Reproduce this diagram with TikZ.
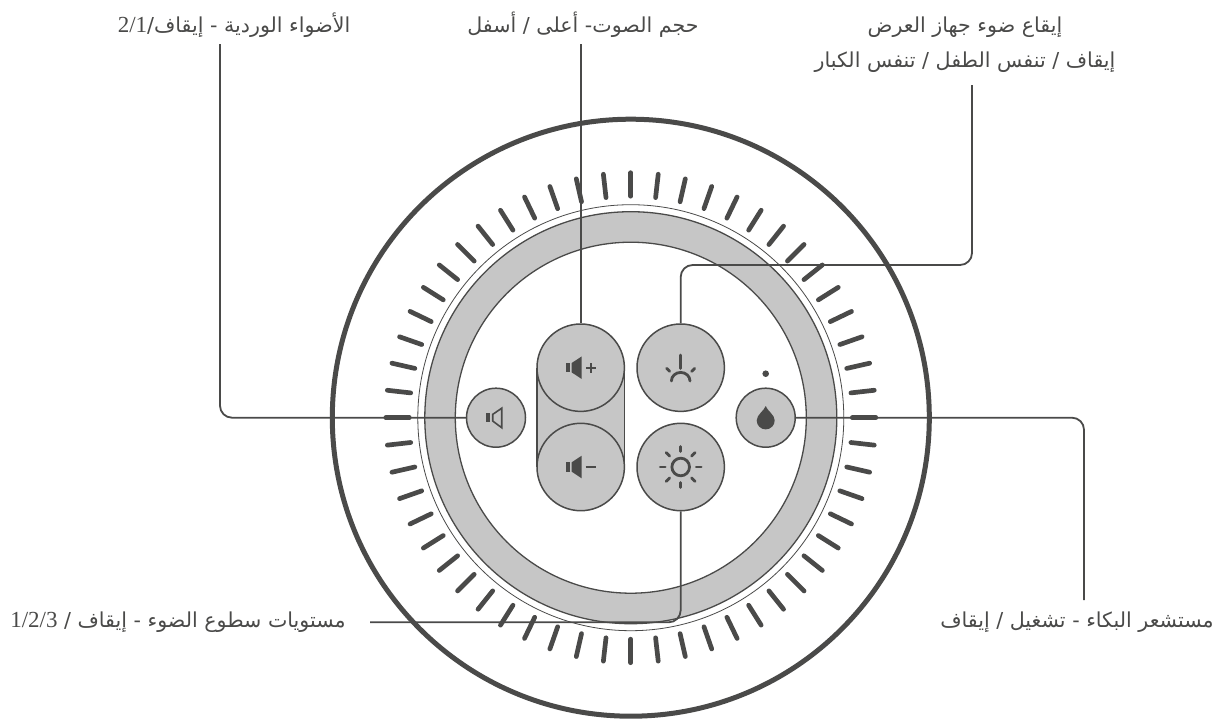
\documentclass[tikz,border=0pt]{standalone}
\usepackage{fontspec}
\usetikzlibrary{calc}
\TeXXeTstate=1
\newfontfamily\arabicfont[Script=Arabic]{DejaVu Sans}
\newfontfamily\numfont{Liberation Serif}
\definecolor{ink}{HTML}{4A4A49}
\definecolor{fillgray}{HTML}{C6C6C6}
\tikzset{x=1pt,y=-1pt,
 conn/.style={draw=ink,line width=1.8pt,rounded corners=12pt},
 lab/.style={inner sep=0pt,text=ink,font=\arabicfont\fontsize{20.6}{35}\selectfont,align=center},
 btn/.style={circle,draw=ink,fill=fillgray,line width=1.5pt,inner sep=0pt,minimum size=87.4pt},
 smallbtn/.style={circle,draw=ink,fill=fillgray,line width=1.5pt,inner sep=0pt,minimum size=59pt},
 icon/.style={draw=ink,line width=2.8pt,line cap=round},
 tick/.style={draw=ink,line width=4.7pt,line cap=round}
}
\newcommand{\NR}[1]{{\numfont\fontsize{23}{28}\selectfont\beginL #1\endL}}
\begin{document}
\begin{tikzpicture}
\useasboundingbox (0,0) rectangle (1221,720);
\coordinate (c) at (630.8,417.7);
\draw[ink,line width=5pt] (c) circle (298.5);
\foreach \a in {0,...,55}{
 \draw[tick] ($(c)+({\a*6.42857}:221.5)$) -- ($(c)+({\a*6.42857}:245)$);
}
\draw[ink,line width=.8pt] (c) circle (213);
\draw[ink,line width=1.3pt,fill=fillgray,even odd rule] (c) circle (206) (c) circle (175.5);
% capsule
\fill[fillgray] (537,367.7) rectangle (624.4,467);
\draw[ink,line width=1.5pt] (537,367.7) -- (537,467) (624.4,367.7) -- (624.4,467);
% buttons
\node[btn] (volup) at (580.7,367.7) {};
\node[btn] (voldn) at (580.7,467) {};
\node[btn] (rhythm) at (680.7,367.7) {};
\node[btn] (bright) at (680.7,467) {};
\node[smallbtn] (pink) at (496,417.7) {};
\node[smallbtn] (cry) at (765.7,417.7) {};
\fill[ink] (765.7,373.7) circle (3.3);
% free ends
\coordinate (pinkend) at (220,44);
\coordinate (volend) at (580.7,44);
\coordinate (rhyend) at (972,85);
\coordinate (cryend) at (1084,600);
\coordinate (brightend) at (370,622.3);
\draw[conn] (pinkend) |- (pink.west);
\draw[conn] (volend) -- (volup.north);
\draw[conn] (rhyend) |- (680.7,265) -- (rhythm.north);
\draw[conn] (cry.east) -| (cryend);
\draw[conn] (bright.south) |- (brightend);
% icons: speaker +
\begin{scope}[shift={(volup)}]
 \fill[ink] (-14.7,-4.7) rectangle (-10.7,4.7);
 \fill[ink] (-9,-4.7) -- (1,-11.3) -- (1,11.3) -- (-9,4.7) -- cycle;
 \draw[ink,line width=2pt] (5.3,.7) -- (15.3,.7) (10.3,-4.3) -- (10.3,5.7);
\end{scope}
\begin{scope}[shift={(voldn)}]
 \fill[ink] (-14.7,-4.7) rectangle (-10.7,4.7);
 \fill[ink] (-9,-4.7) -- (1,-11.3) -- (1,11.3) -- (-9,4.7) -- cycle;
 \draw[ink,line width=2.2pt] (5,.3) -- (15.3,.3);
\end{scope}
\begin{scope}[shift={(pink)}]
 \fill[ink] (-10,-4.5) rectangle (-6,4.5);
 \draw[ink,line width=1.6pt] (-3.3,-3.3) -- (5.7,-9.5) -- (5.7,10) -- (-3.3,3.3) -- cycle;
\end{scope}
% rhythm icon
\begin{scope}[shift={(rhythm)}]
 \draw[icon] (0,-12.7) -- (0,.7);
 \draw[icon] (-14,.7) -- (-11,3.7);
 \draw[icon] (14,.7) -- (11,3.7);
 \draw[icon] (-9.3,13.3) arc (180:360:9.3 and 8.6);
\end{scope}
% sun icon
\begin{scope}[shift={(bright)}]
 \draw[ink,line width=2.8pt] (0,0) circle (8.8);
 \foreach \a in {0,45,...,315}{
  \draw[icon] (\a:15.5) -- (\a:20.5);
 }
\end{scope}
% drop
\begin{scope}[shift={(cry)}]
 \fill[ink] (0,-11.7) .. controls (1.5,-7) and (9,-3) .. (9,2.7) arc (0:180:9 and 9) .. controls (-9,-3) and (-1.5,-7) .. (0,-11.7) -- cycle;
\end{scope}
% labels
\node[lab] (l1) at (234,25) {\beginR الأضواء الوردية - إيقاف/\NR{2/1}\endR};
\node[lab] (l2) at (583,25) {\beginR حجم الصوت- أعلى / أسفل\endR};
\node[lab] (l3) at (965,44.5) {\beginR إيقاع ضوء جهاز العرض\endR\\\beginR إيقاف / تنفس الطفل / تنفس الكبار\endR};
\node[lab] (l4) at (178,622) {\beginR مستويات سطوع الضوء - إيقاف / \NR{1/2/3}\endR};
\node[lab] (l5) at (1077,622) {\beginR مستشعر البكاء - تشغيل / إيقاف\endR};
\end{tikzpicture}
\end{document}
